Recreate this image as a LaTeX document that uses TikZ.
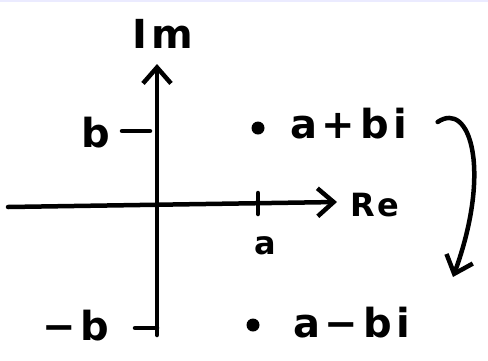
\documentclass[tikz,border=0pt]{standalone}
\usepackage{fontspec}
\setmainfont{DejaVu Sans}
\usetikzlibrary{positioning,arrows.meta}

\begin{document}
\begin{tikzpicture}[
    x=1pt, y=-1pt,
    pen/.style={line width=4.5pt, line cap=round, line join=round},
    arr/.style={pen, -{Straight Barb[length=16pt, width=28pt, line width=4.5pt]}},
    lbl/.style={font=\fontsize{40}{44}\selectfont\bfseries\addfontfeature{LetterSpace=12}, inner sep=0pt},
    small/.style={font=\fontsize{32}{36}\selectfont\bfseries\addfontfeature{LetterSpace=8}, inner sep=0pt},
    pt/.style={circle, fill, inner sep=0pt, minimum size=13pt}
  ]
    \useasboundingbox (0,0) rectangle (488,360);
    \draw[blue!8, line width=1.5pt] (0,1) -- (488,1);
    % axes
    \coordinate (ybot) at (157,335);
    \coordinate (ytop) at (157,64);
    \coordinate (xleft) at (8,207);
    \coordinate (xright) at (337,202);
    \draw[arr] (ybot) -- (ytop);
    \draw[arr] (xleft) -- (xright);
    \node[lbl] (im) at (163,34) {Im};
    \node[small, anchor=west] (re) at (350,205) {Re};
    % ticks
    \coordinate (atick) at (258,205);
    \draw[pen] ([yshift=-9pt]atick) -- ([yshift=12pt]atick);
    \node[small] (alab) at (265,246) {a};
    \coordinate (btick) at (157,131);
    \draw[pen] ([xshift=-35pt]btick) -- ([xshift=-7pt]btick);
    \node[lbl] (blab) at (96,133) {b};
    \coordinate (nbtick) at (157,328);
    \draw[pen] ([xshift=-22pt]nbtick) -- (nbtick);
    \node[lbl] (nblab) at (76,326) {−b};
    % points
    \node[pt] (z) at (258,128) {};
    \node[lbl, anchor=west] (zlab) at (290,124) {a+bi};
    \node[pt] (zbar) at (253,325) {};
    \node[lbl, anchor=west] (zbarlab) at (293,323) {a−bi};
    % conjugation
    \coordinate (flipa) at ([xshift=30pt,yshift=2pt]zlab.east);
    \coordinate (flipb) at (453,277);
    \draw[arr] (flipa) .. controls (470,100) and (492,170) .. (flipb);
\end{tikzpicture}
\end{document}
